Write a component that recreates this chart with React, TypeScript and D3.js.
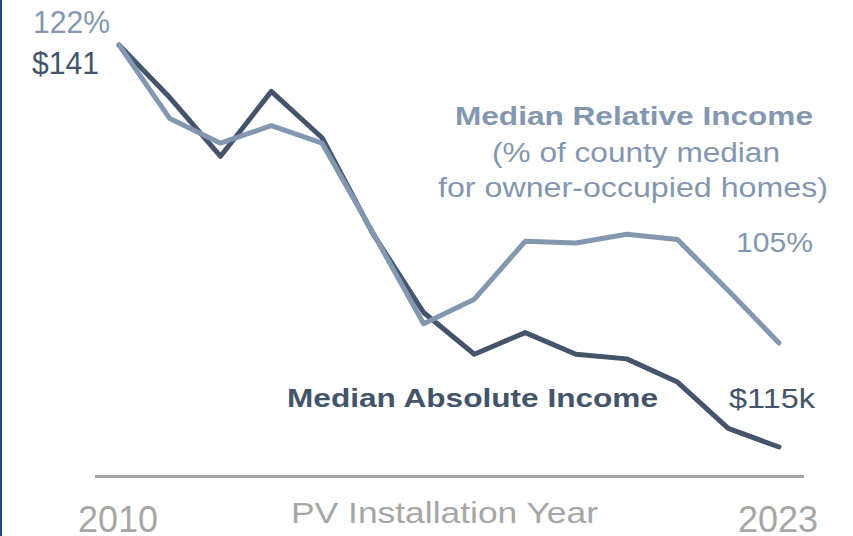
import React from "react";
import * as d3 from "d3";

const years = [2010, 2011, 2012, 2013, 2014, 2015, 2016, 2017, 2018, 2019, 2020, 2021, 2022, 2023];
const absoluteIncome = [141, 137.6, 133.8, 138.0, 135.0, 128.8, 123.7, 121.0, 122.4, 121.0, 120.7, 119.2, 116.2, 115];
const relativeIncome = [122, 117.8, 116.4, 117.4, 116.4, 111.3, 106.1, 107.5, 110.8, 110.7, 111.2, 110.9, 108.0, 105];
const axisLabels = ["2010", "PV Installation Year", "2023"];

const W = 853;
const H = 536;
const DARK = "#44546A";
const LIGHT = "#8497B0";
const GRAY = "#A6A6A6";
const FONT = "'Liberation Sans', Arial, sans-serif";

export default function App() {
  const x = d3.scaleLinear().domain([2010, 2023]).range([119, 779]);
  const yAbs = d3.scaleLinear().domain([115, 141]).range([447, 45]);
  const yRel = d3.scaleLinear().domain([105, 122]).range([343, 45]);

  const lineAbs = d3
    .line<number>()
    .x((_, i) => x(years[i]))
    .y((d) => yAbs(d));
  const lineRel = d3
    .line<number>()
    .x((_, i) => x(years[i]))
    .y((d) => yRel(d));

  const t = (
    s: string,
    left: number,
    base: number,
    size: number,
    width: number,
    fill: string,
    bold = false
  ) => (
    <text
      x={left}
      y={base}
      fontSize={size}
      fontWeight={bold ? "bold" : "normal"}
      fill={fill}
      textLength={width}
      lengthAdjust="spacingAndGlyphs"
    >
      {s}
    </text>
  );

  return (
    <svg
      width={W}
      height={H}
      style={{ position: "fixed", left: 0, top: 0, background: "#fff" }}
      fontFamily={FONT}
    >
      <rect x={0} y={0} width={W} height={H} fill="#fff" />
      <rect x={0} y={0} width={2} height={H} fill="#1F4A7C" />

      <line x1={x(2010) - 24} x2={x(2023) + 25} y1={476.5} y2={476.5} stroke={GRAY} strokeWidth={3} />

      <path d={lineAbs(absoluteIncome) || ""} fill="none" stroke={DARK} strokeWidth={5} strokeLinejoin="round" strokeLinecap="round" />
      <path d={lineRel(relativeIncome) || ""} fill="none" stroke={LIGHT} strokeWidth={5} strokeLinejoin="round" strokeLinecap="round" />

      {t("122%", 33, 33, 32, 77, LIGHT)}
      {t("$141", 32, 74, 31, 67, DARK)}

      {t("Median Relative Income", 455, 125, 26, 358, LIGHT, true)}
      {t("(% of county median", 492, 162, 27, 288, LIGHT)}
      {t("for owner-occupied homes)", 438, 197, 27, 390, LIGHT)}
      {t("105%", 736, 252, 28, 77, LIGHT)}

      {t("Median Absolute Income", 287, 407, 26.5, 371, DARK, true)}
      {t("$115k", 729, 408, 28, 86, DARK)}

      {t(axisLabels[0], 78, 532, 37, 80, GRAY)}
      {t(axisLabels[1], 291, 523, 29.6, 307, GRAY)}
      {t(axisLabels[2], 738, 532, 37, 80, GRAY)}
    </svg>
  );
}
